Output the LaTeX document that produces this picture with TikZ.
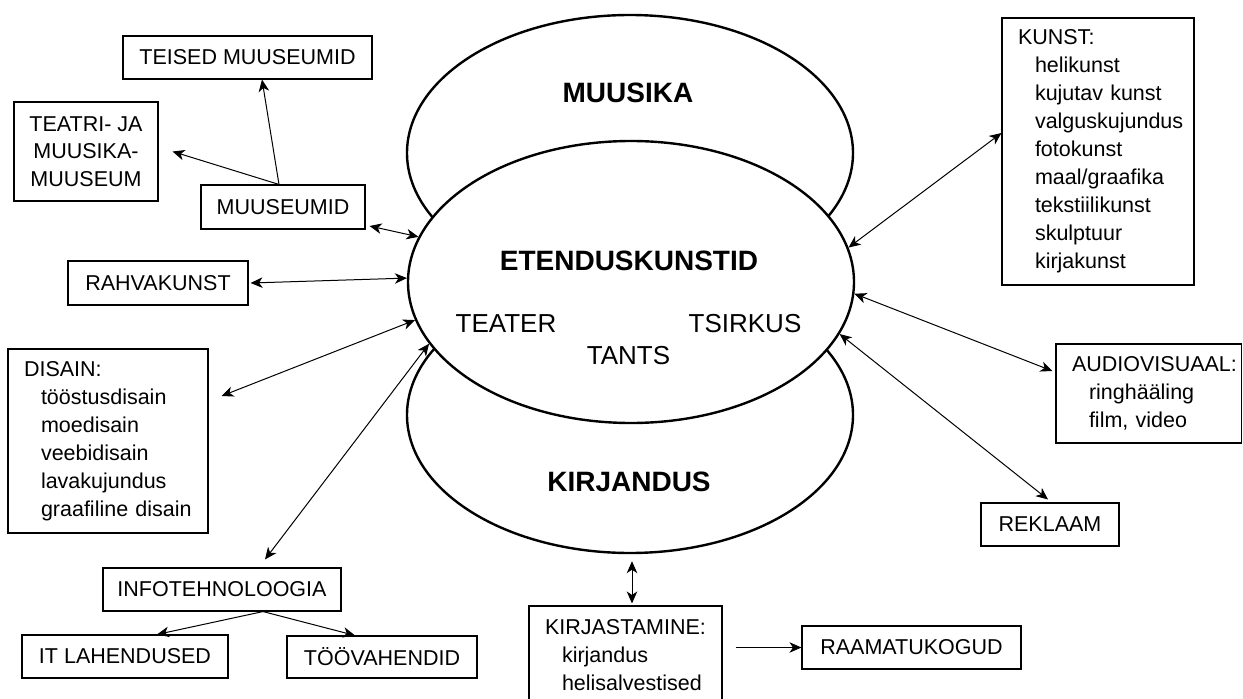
\documentclass[tikz,border=0pt]{standalone}
\usepackage{fontspec}
\setmainfont{Liberation Sans}
\usetikzlibrary{shapes.geometric,arrows.meta}
\newcommand{\myli}[1]{\mbox{\hspace*{17pt}#1}}
\newcommand{\myhd}[1]{\mbox{#1}}
\begin{document}
\begin{tikzpicture}[x=1pt,y=-1pt,
  ell/.style={ellipse,draw,line width=2.4pt,inner sep=0pt,minimum width=446pt},
  box/.style={draw,line width=1.1pt,inner sep=0pt,font=\fontsize{21.5}{28}\selectfont},
  lbox/.style={box,align=left,inner xsep=16pt,inner ysep=0pt},
  bigl/.style={font=\fontsize{28}{28}\selectfont\bfseries,anchor=base,inner sep=0pt},
  midl/.style={font=\fontsize{26}{26}\selectfont,anchor=base,inner sep=0pt},
  arr/.style={line width=1pt,-{Stealth[length=12pt,width=10.5pt,inset=3.5pt]}},
  darr/.style={line width=1pt,{Stealth[length=12pt,width=10.5pt,inset=3.5pt]}-{Stealth[length=12pt,width=10.5pt,inset=3.5pt]}}
]
\useasboundingbox (0,0) rectangle (1243,699);

% ellipses
\node[ell,minimum height=276pt] (muusika) at (630,153) {};
\node[ell,minimum height=276pt] (kirjandus) at (630,415) {};
\node[ell,fill=white,minimum height=282pt] (eten) at (631,282) {};

% ellipse labels
\node[bigl] (lmuusika) at (628,102) {MUUSIKA};
\node[bigl] (leten) at (629,270) {ETENDUSKUNSTID};
\node[bigl] (lkirj) at (629,491) {KIRJANDUS};
\node[midl] (lteater) at (506,332) {TEATER};
\node[midl] (ltsirkus) at (745,332) {TSIRKUS};
\node[midl] (ltants) at (628.5,364) {TANTS};

% single-line boxes
\node[box,minimum width=249pt,minimum height=43pt] (teised) at (247.5,57.5) {TEISED MUUSEUMID};
\node[box,minimum width=164pt,minimum height=44pt] (muuseumid) at (283,207) {MUUSEUMID};
\node[box,minimum width=180pt,minimum height=44pt] (rahva) at (158,283) {RAHVAKUNST};
\node[box,minimum width=238pt,minimum height=43pt] (info) at (222,589.5) {INFOTEHNOLOOGIA};
\node[box,minimum width=206pt,minimum height=43pt] (itl) at (125,656.5) {IT LAHENDUSED};
\node[box,minimum width=190pt,minimum height=42pt] (too) at (382,657) {TÖÖVAHENDID};
\node[box,minimum width=138pt,minimum height=43pt] (reklaam) at (1050,524.5) {REKLAAM};
\node[box,minimum width=219pt,minimum height=43pt] (raamat) at (911.5,647.5) {RAAMATUKOGUD};

% multi-line boxes
\node[box,align=center,minimum width=144pt,minimum height=99pt,font=\fontsize{21.5}{27.5}\selectfont] (teatri) at (86,151.5) {TEATRI- JA\\MUUSIKA-\\MUUSEUM};
\node[lbox,text width=168pt,minimum height=184pt] (disain) at (108,441)
  {\myhd{DISAIN:}\\\myli{tööstusdisain}\\\myli{moedisain}\\\myli{veebidisain}\\\myli{lavakujundus}\\\myli{graafiline disain}};
\node[lbox,text width=160pt,minimum height=267pt] (kunst) at (1098,151.5)
  {\myhd{KUNST:}\\\myli{helikunst}\\\myli{kujutav kunst}\\\myli{valguskujundus}\\\myli{fotokunst}\\\myli{maal/graafika}\\\myli{tekstiilikunst}\\\myli{skulptuur}\\\myli{kirjakunst}};
\node[lbox,text width=153.5pt,minimum height=99pt] (audio) at (1148.75,393.5)
  {\myhd{AUDIOVISUAAL:}\\\myli{ringhääling}\\\myli{film, video}};
\node[lbox,text width=161pt,minimum height=99pt] (kirjast) at (625.5,655.5)
  {\myhd{KIRJASTAMINE:}\\\myli{kirjandus}\\\myli{helisalvestised}};

% connectors
\draw[arr] ([xshift=-4pt]muuseumid.north) -- ([xshift=14.5pt]teised.south);
\draw[arr] ([xshift=-4pt]muuseumid.north) -- ([xshift=14pt]teatri.east);
\draw[darr] ([xshift=4pt,yshift=-19pt]muuseumid.east) -- (eten.168.6);
\draw[darr] ([xshift=2pt]rahva.east) -- (eten.179);
\draw[darr] ([xshift=13pt,yshift=45pt]disain.east) -- (eten.190.8);
\draw[darr] ([xshift=43pt,yshift=8pt]info.north) -- (eten.197.9);
\draw[arr] ([xshift=41pt]info.south) -- ([xshift=32pt]itl.north);
\draw[arr] ([xshift=41pt]info.south) -- ([xshift=-27pt]too.north);
\draw[darr] ([yshift=18.5pt]kunst.west) -- (eten.9.7);
\draw[darr] ([xshift=-3pt,yshift=22.5pt]audio.west) -- (eten.357.2);
\draw[darr] ([xshift=-2pt,yshift=3pt]reklaam.north) -- (eten.346.9);
\draw[darr] ([xshift=2pt,yshift=-7pt]kirjandus.south) -- ([xshift=6.5pt,yshift=2pt]kirjast.north);
\draw[arr] ([xshift=13pt,yshift=8pt]kirjast.east) -- (raamat.west);
\end{tikzpicture}
\end{document}
